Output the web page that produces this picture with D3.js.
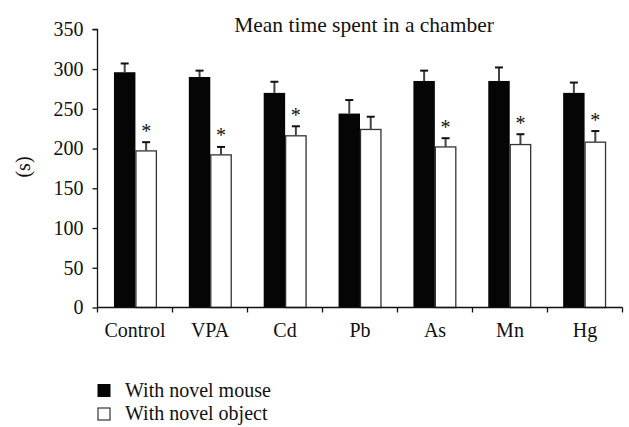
<!DOCTYPE html>
<html>
<head>
<meta charset="utf-8">
<script src="https://cdn.jsdelivr.net/npm/d3@7"></script>
<style>
  html, body { margin: 0; padding: 0; background: #fff; }
  svg text { font-family: "Liberation Serif", "DejaVu Serif", serif; fill: #111; }
</style>
</head>
<body>
<svg id="chart" width="629" height="427"></svg>
<script>
const categories = ["Control", "VPA", "Cd", "Pb", "As", "Mn", "Hg"];
const seriesNames = ["With novel mouse", "With novel object"];
const mouseValues = [296, 290, 270, 244, 285, 285, 270];
const mouseErrors = [11, 8, 14, 17, 13, 17, 13];
const objectValues = [197, 192, 216, 224, 202, 205, 208];
const objectErrors = [11, 10, 12, 16, 11, 13, 14];
const significant = [true, true, true, false, true, true, true];
const yTicks = [0, 50, 100, 150, 200, 250, 300, 350];
const title = "Mean time spent in a chamber";
const yLabel = "(s)";

const svg = d3.select("#chart");
const mLeft = 97.5, mRight = 622.5, mTop = 29.3, mBottom = 307.5;

const x = d3.scaleBand().domain(categories).range([mLeft, mRight]).paddingInner(0.427).paddingOuter(0.22);
const xStep = d3.scaleBand().domain(categories).range([mLeft, mRight]).padding(0);
const sub = d3.scaleBand().domain([0, 1]).range([0, x.bandwidth()]).padding(0);
const y = d3.scaleLinear().domain([0, 350]).range([mBottom, mTop]);

const rows = categories.map((c, i) => ({
  cat: c,
  bars: [
    { s: 0, v: mouseValues[i], e: mouseErrors[i], star: false },
    { s: 1, v: objectValues[i], e: objectErrors[i], star: significant[i] }
  ]
}));

// Title
svg.append("text").attr("x", 364).attr("y", 32).attr("text-anchor", "middle")
  .style("font-size", "21.5px").text(title);

// Y label
svg.append("text").attr("transform", "translate(23,167) rotate(-90)")
  .attr("text-anchor", "middle").attr("dominant-baseline", "central")
  .style("font-size", "20px").text(yLabel);

// Bars
const g = svg.append("g");
const groups = g.selectAll("g.cat").data(rows).join("g")
  .attr("transform", d => `translate(${x(d.cat)},0)`);

groups.selectAll("rect").data(d => d.bars).join("rect")
  .attr("x", d => sub(d.s) + (d.s === 1 ? 0.5 : 0))
  .attr("width", d => sub.bandwidth() - (d.s === 1 ? 1 : 0))
  .attr("y", d => y(d.v))
  .attr("height", d => y(0) - y(d.v))
  .attr("fill", d => d.s === 0 ? "#050505" : "#fff")
  .attr("stroke", d => d.s === 0 ? "none" : "#333")
  .attr("stroke-width", 1.3);

// Error bars
groups.selectAll("line.err").data(d => d.bars).join("line")
  .attr("class", "err")
  .attr("x1", d => sub(d.s) + sub.bandwidth() / 2)
  .attr("x2", d => sub(d.s) + sub.bandwidth() / 2)
  .attr("y1", d => y(d.v))
  .attr("y2", d => y(d.v + d.e))
  .attr("stroke", "#444").attr("stroke-width", 2);

groups.selectAll("line.cap").data(d => d.bars).join("line")
  .attr("class", "cap")
  .attr("x1", d => sub(d.s) + sub.bandwidth() / 2 - 4)
  .attr("x2", d => sub(d.s) + sub.bandwidth() / 2 + 4)
  .attr("y1", d => y(d.v + d.e))
  .attr("y2", d => y(d.v + d.e))
  .attr("stroke", "#111").attr("stroke-width", 2);

// Asterisks
groups.selectAll("text.star").data(d => d.bars.filter(b => b.star)).join("text")
  .attr("class", "star")
  .attr("x", d => sub(d.s) + sub.bandwidth() / 2)
  .attr("y", d => y(d.v + d.e) - 4.5)
  .attr("text-anchor", "middle")
  .style("font-size", "20px").text("*");

// Y axis
const yAxis = d3.axisLeft(y).tickValues(yTicks).tickSize(5).tickPadding(9);
const yg = svg.append("g").attr("transform", `translate(${mLeft},0)`).call(yAxis);
yg.select(".domain").attr("stroke", "#111").attr("stroke-width", 1.3).attr("d", `M-5,${mTop}H0V${mBottom}`);
yg.selectAll(".tick line").attr("stroke", "#111").attr("stroke-width", 1.3);
yg.selectAll(".tick text").style("font-size", "20px").attr("fill", "#111")
  .style("font-family", '"Liberation Serif", serif');

// X axis: boundary ticks
const xg = svg.append("g").attr("transform", `translate(0,${mBottom})`);
xg.append("line").attr("x1", mLeft).attr("x2", mRight).attr("y1", 0).attr("y2", 0)
  .attr("stroke", "#111").attr("stroke-width", 1.3);
const bounds = categories.map(c => xStep(c)).concat([mRight]);
xg.selectAll("line.tk").data(bounds).join("line").attr("class", "tk")
  .attr("x1", d => d).attr("x2", d => d).attr("y1", 0).attr("y2", 5)
  .attr("stroke", "#111").attr("stroke-width", 1.3);
xg.selectAll("text").data(categories).join("text")
  .attr("x", d => xStep(d) + xStep.bandwidth() / 2)
  .attr("y", 29.3)
  .attr("text-anchor", "middle")
  .style("font-size", "20px").text(d => d);

// Legend
const leg = svg.append("g");
seriesNames.forEach((name, i) => {
  const yy = 384 + i * 23.5;
  leg.append("rect").attr("x", 97.5 + (i ? 0.5 : 0)).attr("y", yy + (i ? 0.5 : 0))
    .attr("width", i ? 12 : 13).attr("height", i ? 12 : 13)
    .attr("fill", i ? "#fff" : "#050505")
    .attr("stroke", i ? "#333" : "none").attr("stroke-width", 1.2);
  leg.append("text").attr("x", 125).attr("y", yy + 12.5)
    .style("font-size", "20px").text(name);
});
</script>
</body>
</html>
